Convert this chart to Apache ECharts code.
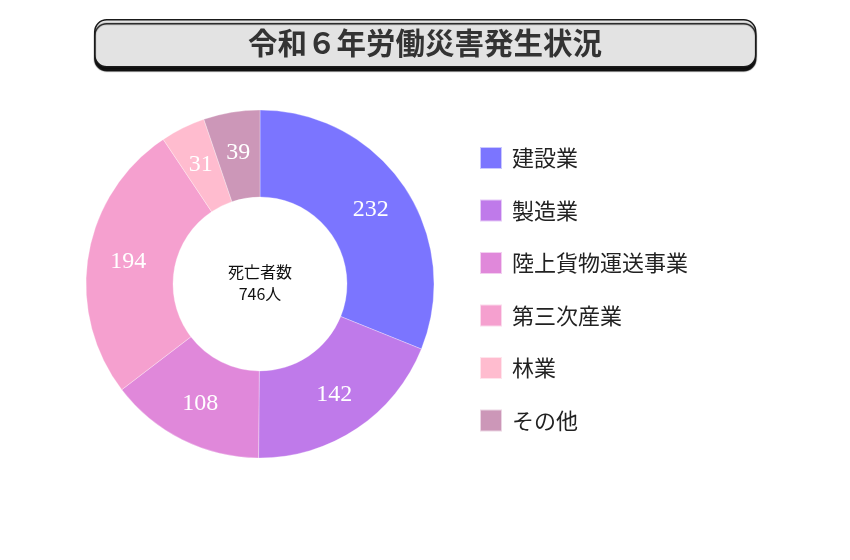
<!DOCTYPE html>
<html><head><meta charset="utf-8">
<script src="https://cdn.jsdelivr.net/npm/echarts@6/dist/echarts.min.js"></script>
<style>html,body{margin:0;padding:0;background:#fff}#c{width:850px;height:560px}</style>
</head><body><div id="c"></div>
<script>
const titleText = '令和６年労働災害発生状況';
const categories = ['建設業','製造業','陸上貨物運送事業','第三次産業','林業','その他'];
const values = [232,142,108,194,31,39];
const colors = ['#7b75ff','#bf7aea','#e088da','#f5a0cf','#ffbccf','#cc97b8'];
const centerLabel = '死亡者数';
const total = values.reduce((a,b)=>a+b,0);

const chart = echarts.init(document.getElementById('c'));
chart.setOption({
  animation:false,
  color: colors,
  graphic: [
    {type:'rect', left:94, top:19, shape:{width:661, height:47, r:12},
     style:{fill:'#e3e3e3', stroke:'#1a1a1a', lineWidth:1.5, shadowColor:'rgba(0,0,0,0.95)', shadowBlur:1, shadowOffsetX:0, shadowOffsetY:4}, z:1},
    {type:'text', x:425, y:43, style:{text:titleText, fill:'#333', font:'bold 29.5px "Noto Sans CJK JP"', align:'center', verticalAlign:'middle'}, z:2},
    {type:'text', x:260, y:283, style:{text:centerLabel+'\n'+total+'人', fill:'#111', font:'16px "Noto Sans CJK JP"', align:'center', verticalAlign:'middle', lineHeight:22}, z:5}
  ],
  legend:{
    orient:'vertical', left:479, top:146, padding:0, icon:'rect', itemWidth:22, itemHeight:22, itemGap:28.5,
    textStyle:{fontSize:22, lineHeight:22, color:'#222', fontFamily:'"Noto Sans CJK JP"', padding:[0,0,0,5]},
    data: categories
  },
  series:[{
    type:'pie', center:[260,284], radius:[87,174], startAngle:90, clockwise:true,
    itemStyle:{borderColor:'rgba(255,255,255,0.6)', borderWidth:0.5},
    label:{show:true, position:'inside', color:'#fff', fontSize:24, fontFamily:'"Liberation Serif"', fontWeight:'normal', formatter:'{c}'},
    labelLine:{show:false},
    emphasis:{disabled:true},
    data: categories.map((n,i)=>({name:n, value:values[i]}))
  }]
});
</script></body></html>
